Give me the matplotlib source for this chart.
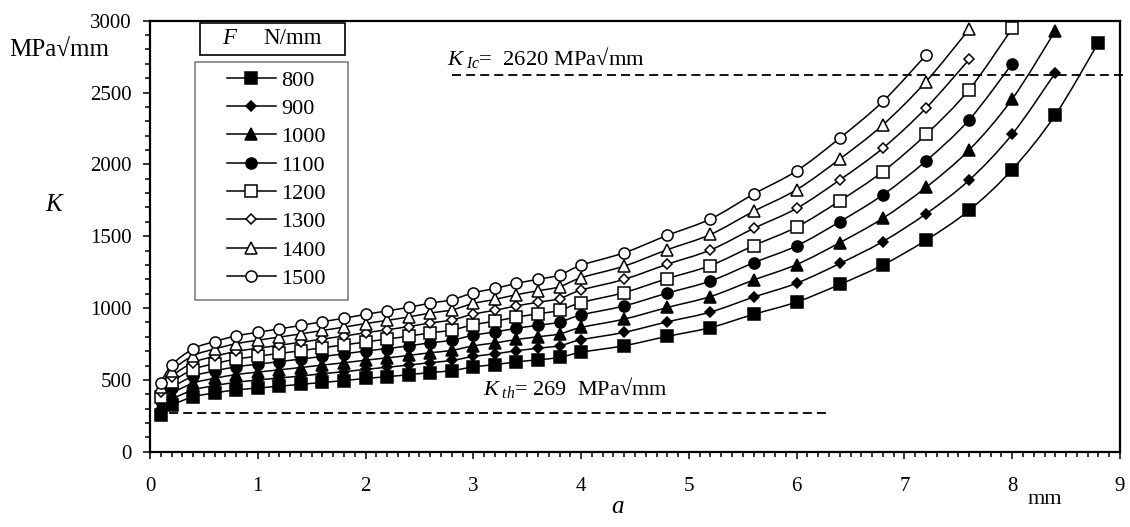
import numpy as np
import matplotlib.pyplot as plt
from matplotlib.path import Path
from matplotlib.patches import PathPatch, Rectangle
from matplotlib.lines import Line2D

plt.rcParams['font.family'] = ['Liberation Serif', 'DejaVu Serif']
plt.rcParams['mathtext.fontset'] = 'custom'
plt.rcParams['mathtext.rm'] = 'Liberation Serif'
plt.rcParams['mathtext.it'] = 'Liberation Serif:italic'

# crack length a (mm)
a = [0.1, 0.2, 0.4, 0.6, 0.8, 1.0, 1.2, 1.4, 1.6, 1.8, 2.0, 2.2, 2.4, 2.6, 2.8,
     3.0, 3.2, 3.4, 3.6, 3.8, 4.0, 4.4, 4.8, 5.2, 5.6, 6.0, 6.4, 6.8, 7.2,
     7.6, 8.0, 8.4, 8.8]

# stress intensity K (MPa*sqrt(mm)) for each load F (N/mm)
k800 = [256, 322, 382, 409, 430, 443, 456, 469, 482, 495, 510, 522, 536, 551, 564,
        590, 606, 625, 640, 656, 692, 738, 803, 864, 956, 1042, 1164, 1300, 1472,
        1680, 1964, 2344, 2848]
k900 = [288, 362, 429, 460, 483, 499, 513, 527, 543, 557, 573, 588, 603, 620, 635,
        663, 681, 703, 720, 738, 779, 831, 904, 972, 1076, 1173, 1310, 1463, 1656,
        1890, 2210, 2637]
k1000 = [320, 402, 477, 511, 537, 554, 570, 586, 603, 619, 637, 653, 670, 689, 705,
         737, 757, 781, 800, 820, 865, 923, 1004, 1080, 1195, 1303, 1455, 1625, 1840,
         2100, 2455, 2930]
k1100 = [352, 442, 525, 562, 591, 609, 627, 645, 663, 681, 701, 718, 737, 758, 776,
         811, 833, 859, 880, 902, 952, 1015, 1104, 1188, 1315, 1433, 1601, 1788, 2024,
         2310, 2701]
k1200 = [384, 482, 572, 613, 644, 665, 684, 703, 724, 743, 764, 784, 804, 827, 846,
         884, 908, 937, 960, 984, 1038, 1108, 1205, 1296, 1434, 1564, 1746, 1950, 2208,
         2520, 2946]
k1300 = [416, 523, 620, 664, 698, 720, 741, 762, 784, 805, 828, 849, 871, 896, 917,
         958, 984, 1015, 1040, 1066, 1125, 1200, 1305, 1404, 1554, 1694, 1892, 2113, 2392,
         2730]
k1400 = [448, 563, 668, 715, 752, 776, 798, 820, 844, 867, 892, 914, 938, 965, 987,
         1032, 1060, 1093, 1120, 1148, 1211, 1292, 1406, 1512, 1673, 1824, 2037, 2275, 2576,
         2940]
k1500 = [480, 603, 716, 767, 806, 831, 855, 879, 905, 929, 956, 980, 1005, 1034, 1058,
         1106, 1136, 1172, 1200, 1230, 1298, 1385, 1506, 1620, 1793, 1955, 2183, 2438, 2760]

loads = ['800', '900', '1000', '1100', '1200', '1300', '1400', '1500']
series = [k800, k900, k1000, k1100, k1200, k1300, k1400, k1500]
markers = ['s', 'D', '^', 'o', 's', 'D', '^', 'o']
sizes = [8, 5.5, 8.5, 8, 8, 5.5, 8.5, 8]
fills = ['black'] * 4 + ['white'] * 4

K_IC = 2620
K_TH = 269


def smooth_path(x, y):
    # excel-like smoothed line drawn as cubic bezier segments
    p = np.column_stack([x, y]).astype(float)
    n = len(p)
    verts = [p[0]]
    codes = [Path.MOVETO]
    for i in range(n - 1):
        p0 = p[i - 1] if i > 0 else p[i]
        p3 = p[i + 2] if i + 2 < n else p[i + 1]
        c1 = p[i] + (p[i + 1] - p0) / 6
        c2 = p[i + 1] - (p3 - p[i]) / 6
        verts += [c1, c2, p[i + 1]]
        codes += [Path.CURVE4] * 3
    return Path(verts, codes)


W, H = 1130, 527
fig = plt.figure(figsize=(W / 100, H / 100), dpi=100)
ax = fig.add_axes([150 / W, 1 - 451.7 / H, 970 / W, 431 / H])


def fx(px):
    return px / W


def fy(py):
    return 1 - py / H


handles = []
for lab, k, m, ms, fc in zip(loads, series, markers, sizes, fills):
    x = a[:len(k)]
    ax.add_patch(PathPatch(smooth_path(x, k), facecolor='none', edgecolor='black',
                           lw=1.1, zorder=2))
    ax.plot(x, k, linestyle='none', marker=m, ms=ms, mfc=fc, mec='black', mew=1.1,
            zorder=3)
    handles.append(Line2D([], [], color='black', lw=1.1, marker=m, ms=ms, mfc=fc,
                          mec='black', mew=1.1, label=lab))

# threshold and toughness lines
ax.plot([2.8, 9.06], [K_IC, K_IC], color='black', lw=1.3, ls=(0, (5, 2.8)),
        clip_on=False)
ax.plot([0.05, 6.3], [K_TH, K_TH], color='black', lw=1.3, ls=(0, (5, 2.8)))

ax.set_xlim(0, 9)
ax.set_ylim(0, 3000)
ax.set_xticks(np.arange(0, 10, 1))
ax.set_xticks(np.arange(0, 9.01, 0.1), minor=True)
ax.set_yticks(np.arange(0, 3001, 500))
ax.set_yticks(np.arange(0, 3001, 100), minor=True)
ax.tick_params(which='both', direction='out', width=1.1, labelsize=15, color='black')
ax.tick_params(which='major', length=5)
ax.tick_params(which='minor', length=3.3)
ax.tick_params(axis='x', which='major', pad=13)
ax.tick_params(axis='y', which='major', pad=8)
for s in ax.spines.values():
    s.set_linewidth(1.6)

# axis texts
fig.text(fx(9), fy(50), 'MPa√mm', fontsize=18, ha='left', va='center')
fig.text(fx(54), fy(205), 'K', fontsize=18, style='italic', ha='center', va='center')
fig.text(fx(617), fy(507), 'a', fontsize=18, style='italic', ha='center', va='center')
fig.text(fx(1045), fy(499), 'mm', fontsize=16, ha='center', va='center')

fig.text(fx(447), fy(57), r'$K_{\ Ic}$=  2620 MPa√mm', fontsize=16.2, ha='left',
         va='center')
fig.text(fx(483), fy(387), r'$K_{\ th}$= 269  MPa√mm', fontsize=16, ha='left',
         va='center')

# legend boxes
fig.patches.append(Rectangle((fx(200), fy(55)), 145 / W, 32 / H, transform=fig.transFigure,
                             facecolor='white', edgecolor='black', lw=1.2))
fig.text(fx(229), fy(39), 'F', fontsize=16.5, style='italic', ha='center', va='center')
fig.text(fx(263), fy(39), 'N/mm', fontsize=16.5, ha='left', va='center')
fig.patches.append(Rectangle((fx(195), fy(300)), 153 / W, 238 / H,
                             transform=fig.transFigure, facecolor='white',
                             edgecolor='#808080', lw=1.2))
leg = fig.legend(handles=handles, loc='upper left', bbox_to_anchor=(fx(227), fy(70)),
                 bbox_transform=fig.transFigure, frameon=False, fontsize=16,
                 borderpad=0, borderaxespad=0, handlelength=2.2, handletextpad=0.25,
                 labelspacing=0.35)

fig.savefig('out.png', dpi=100)
